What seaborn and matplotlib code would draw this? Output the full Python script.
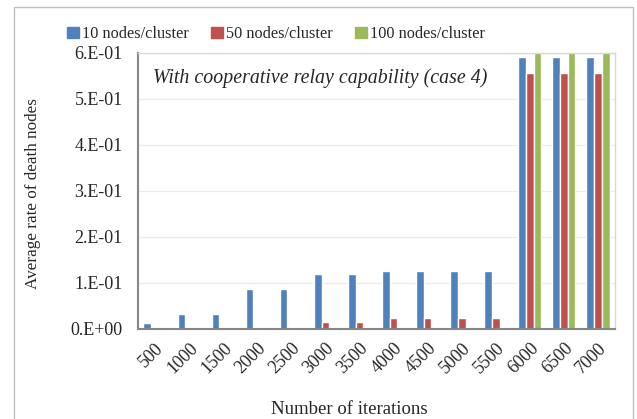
import matplotlib
matplotlib.use("Agg")
import matplotlib.pyplot as plt
import matplotlib.patches as mpatches
import numpy as np
import pandas as pd
import seaborn as sns
from matplotlib.ticker import FuncFormatter

ITERATIONS = ["500", "1000", "1500", "2000", "2500", "3000", "3500",
              "4000", "4500", "5000", "5500", "6000", "6500", "7000"]
SERIES = ["10 nodes/cluster", "50 nodes/cluster", "100 nodes/cluster"]
NODES_10 = [0.013, 0.031, 0.031, 0.085, 0.085, 0.118, 0.118,
            0.125, 0.125, 0.125, 0.125, 0.592, 0.592, 0.592]
NODES_50 = [0.0, 0.0, 0.0, 0.0, 0.0, 0.015, 0.014,
            0.022, 0.022, 0.022, 0.022, 0.556, 0.556, 0.556]
NODES_100 = [0.0, 0.0, 0.0, 0.0, 0.0, 0.004, 0.004,
             0.004, 0.004, 0.004, 0.004, 0.61, 0.61, 0.61]
COLORS = ["#4F81BD", "#C0504D", "#9BBB59"]

df = pd.DataFrame({
    "iteracion": ITERATIONS * 3,
    "serie": np.repeat(SERIES, len(ITERATIONS)),
    "valor": NODES_10 + NODES_50 + NODES_100,
})

sns.set_theme(style="white")
plt.rcParams["font.family"] = ["Liberation Serif", "DejaVu Serif"]

fig = plt.figure(figsize=(6.37, 4.19), dpi=100)
ax = fig.add_axes([138 / 637, 1 - 328.5 / 419, (615 - 138) / 637, (328.5 - 53) / 419])

sns.barplot(data=df, x="iteracion", y="valor", hue="serie", palette=COLORS,
            width=0.68, gap=0, saturation=1, ax=ax, legend=False)

ax.set_ylim(0, 0.6)
ax.set_yticks(np.arange(0, 0.61, 0.1))
ax.yaxis.set_major_formatter(FuncFormatter(
    lambda v, _: "0.E+00" if abs(v) < 1e-9 else f"{round(v * 10):d}.E-01"))
ax.grid(axis="y", color="#ececec", linewidth=0.9)
ax.set_axisbelow(True)
ax.tick_params(axis="y", labelsize=13, length=0, pad=11)
ax.tick_params(axis="x", labelsize=13, length=0, pad=8)
plt.setp(ax.get_xticklabels(), rotation=45, ha="right", rotation_mode="anchor")

for side in ["left", "bottom"]:
    ax.spines[side].set_color("#868686")
    ax.spines[side].set_linewidth(1.5)
for side in ["top", "right"]:
    ax.spines[side].set_color("#d9d9d9")
    ax.spines[side].set_linewidth(1.0)

ax.set_xlabel("Number of iterations", fontsize=13.5)
ax.set_ylabel("Average rate of death nodes", fontsize=12.3)
ax.xaxis.set_label_coords(0.444, -0.262)
ax.yaxis.set_label_coords(-0.203, 0.49)

ax.text(0.031, 0.91, "With cooperative relay capability (case 4)", transform=ax.transAxes,
        fontsize=14.3, style="italic", va="center")

handles = [mpatches.Patch(color=c, label=s) for c, s in zip(COLORS, SERIES)]
fig.legend(handles=handles, loc="center", bbox_to_anchor=(276 / 637, 1 - 34 / 419), ncol=3,
           frameon=False, fontsize=11.7, handlelength=0.7, handleheight=0.7,
           handletextpad=0.2, columnspacing=1.4)

border = mpatches.Rectangle((14 / 637, -0.05), (633 - 14) / 637, 1.05 - 7 / 419,
                            transform=fig.transFigure, fill=False,
                            edgecolor="#bfbfbf", linewidth=1.0)
fig.patches.append(border)

fig.savefig("out.png", dpi=100)
